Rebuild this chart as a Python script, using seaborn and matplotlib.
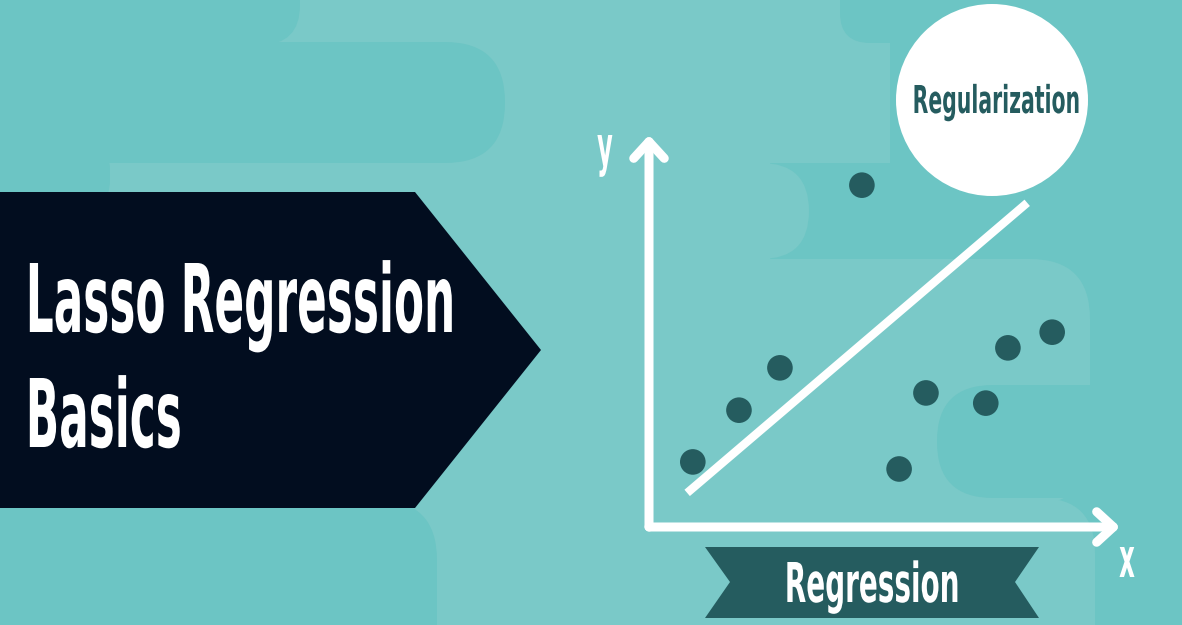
import os
import matplotlib
matplotlib.use("Agg")
import matplotlib.pyplot as plt
import seaborn as sns
from matplotlib import font_manager as fm
from matplotlib.patches import Polygon, Circle, FancyBboxPatch
from matplotlib.patheffects import AbstractPathEffect
from matplotlib.textpath import TextPath
from matplotlib.transforms import Affine2D

# data (chart units 0..10 on both axes)
point_x = [0.93, 1.91, 2.78, 4.52, 5.31, 5.88, 7.15, 7.62, 8.56]
point_y = [1.66, 2.98, 4.06, 8.72, 1.48, 3.42, 3.16, 4.57, 4.97]
fit_x = [0.81, 8.03]
fit_y = [0.87, 8.27]

title_lines = ["Lasso Regression", "Basics"]
badge_text = "Regularization"
ribbon_text = "Regression"
x_label = "x"
y_label = "y"

# colours
LIGHT = "#7ac9c8"
DARK = "#6cc5c4"
NAVY = "#020d1f"
TEAL = "#255c5f"

W, H = 1182, 625


def pick_font():
    best, best_score = None, -1
    for f in fm.fontManager.ttflist:
        key = (f.name + " " + os.path.basename(f.fname)).lower()
        if any(k in key for k in ("italic", "oblique", "mono", "cjk", "serif", "math", "display")):
            continue
        w = f.weight if isinstance(f.weight, int) else 400
        narrow = any(k in key for k in ("condensed", "narrow", "oswald", "compressed"))
        score = 4 * narrow + (2 if 600 <= w <= 750 else (1 if 500 <= w < 600 else 0))
        if score > best_score:
            best, best_score = f.fname, score
    if best:
        return fm.FontProperties(fname=best)
    return fm.FontProperties(family="DejaVu Sans", weight="bold")


class Squeeze(AbstractPathEffect):
    """narrow the glyphs horizontally, the font here is wider than the original"""

    def __init__(self, sx, anchor="left"):
        super().__init__()
        self.sx = sx
        self.anchor = anchor

    def draw_path(self, renderer, gc, tpath, affine, rgbFace=None):
        ext = tpath.get_extents()
        x0 = ext.x0 if self.anchor == "left" else 0.5 * (ext.x0 + ext.x1)
        sq = Affine2D().translate(-x0, 0).scale(self.sx, 1).translate(x0, 0)
        renderer.draw_path(gc, tpath, sq + affine, rgbFace)


FONT = pick_font()
CAP = TextPath((0, 0), "H", prop=FONT, size=100).get_extents().height / 100
XH = TextPath((0, 0), "x", prop=FONT, size=100).get_extents().height / 100


def put_text(ax, s, x, y, size_px, color, ha="left", width_px=None, sx=None):
    if sx is None:
        natural = TextPath((0, 0), s, prop=FONT, size=size_px).get_extents().width
        sx = width_px / natural if width_px else 1.0
    fp = FONT.copy()
    fp.set_size(size_px * 72 / 100)
    t = ax.text(x, y, s, fontproperties=fp, color=color, ha=ha, va="baseline", zorder=6)
    t.set_path_effects([Squeeze(sx, "left" if ha == "left" else "center")])
    return sx


sns.set_theme(style="white")
fig = plt.figure(figsize=(W / 100, H / 100), dpi=100)
fig.patch.set_facecolor(LIGHT)

# background layer in pixel units
bg = fig.add_axes([0, 0, 1, 1])
bg.set_xlim(0, W)
bg.set_ylim(H, 0)
bg.axis("off")


def blob(x0, y0, x1, y1, r, color):
    bg.add_patch(FancyBboxPatch((x0, y0), x1 - x0, y1 - y0,
                                boxstyle=f"round,pad=0,rounding_size={r}",
                                fc=color, ec="none", zorder=0))


# left side darker shapes
blob(-80, -80, 300, 45, 40, DARK)
blob(-80, 42, 505, 163, 60, DARK)
blob(-80, 140, 110, 210, 30, DARK)
blob(-80, 500, 437, 700, 60, DARK)
# right side: dark field with light shapes on top
blob(840, -80, 1262, 43, 30, DARK)
blob(890, 20, 1262, 175, 0, DARK)
blob(770, 163, 1262, 700, 0, DARK)
blob(400, 163, 809, 259, 48, LIGHT)
blob(560, 259, 1090, 505, 60, LIGHT)
blob(937, 385, 1262, 498, 56, DARK)
blob(560, 498, 1095, 700, 55, LIGHT)

# title arrow
bg.add_patch(Polygon([(0, 192), (415, 192), (541, 350), (415, 508), (0, 508)],
                     closed=True, fc=NAVY, ec="none", zorder=3))
# regularization badge
bg.add_patch(Circle((992, 100), 96, fc="white", ec="none", zorder=3))
# regression ribbon
bg.add_patch(Polygon([(705, 547), (1039, 547), (1015, 582), (1039, 618), (705, 618), (730, 582)],
                     closed=True, fc=TEAL, ec="none", zorder=3))

title_px = 69 / CAP
sx = put_text(bg, title_lines[0], 22, 332, title_px, "white", width_px=422)
put_text(bg, title_lines[1], 22, 447, title_px, "white", sx=sx)
put_text(bg, badge_text, 996, 113, 28 / CAP, TEAL, ha="center", width_px=164)
put_text(bg, ribbon_text, 872, 602, 40 / CAP, "white", ha="center", width_px=170)
put_text(bg, y_label, 605, 165, 30 / XH, "white", ha="center", width_px=15)
put_text(bg, x_label, 1127, 577, 30 / XH, "white", ha="center", width_px=15)

# scatter chart
ax = fig.add_axes([649 / W, (H - 527) / H, (1120 - 649) / W, (527 - 135) / H])
ax.set_xlim(0, 10)
ax.set_ylim(0, 10)
ax.axis("off")

arrow = dict(arrowstyle="->,head_length=0.6,head_width=0.55", lw=6.5, color="white",
             shrinkA=0, shrinkB=0, capstyle="round", joinstyle="round", mutation_scale=20)
ax.annotate("", xy=(0, 10), xytext=(0, 0), arrowprops=arrow, annotation_clip=False)
ax.annotate("", xy=(10, 0), xytext=(0, 0), arrowprops=arrow, annotation_clip=False)

sns.lineplot(x=fit_x, y=fit_y, ax=ax, color="white", linewidth=6,
             solid_capstyle="butt", zorder=3)
sns.scatterplot(x=point_x, y=point_y, ax=ax, s=340, color=TEAL, edgecolor="none",
                linewidth=0, zorder=4, legend=False)
for c in ax.get_children():
    if hasattr(c, "set_clip_on"):
        c.set_clip_on(False)

fig.savefig("out.png", dpi=100, facecolor=fig.get_facecolor())
